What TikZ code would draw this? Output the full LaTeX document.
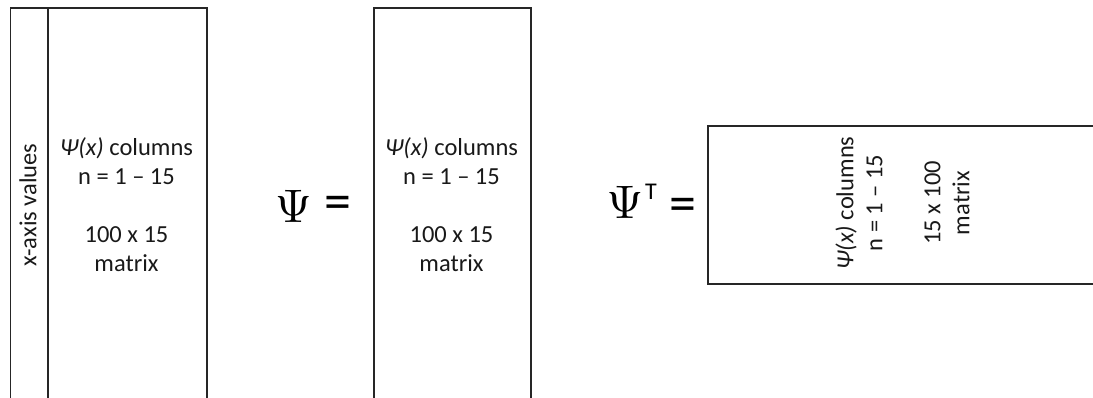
\documentclass[tikz,border=0pt]{standalone}
\usepackage{graphicx}
\usepackage{fontspec}
\setmainfont{Carlito}
\begin{document}
\begin{tikzpicture}[x=1pt,y=-1pt,
  box/.style={draw=black!85, line width=1.6pt, inner sep=0pt, anchor=north west},
  lbl/.style={font=\fontsize{24.5}{29}\selectfont, align=center, inner sep=0pt, text=black!90},
  big/.style={inner sep=0pt},
  eq/.style={font=\fontsize{54}{54}\selectfont, inner sep=0pt},
  sup/.style={font=\fontsize{24}{24}\selectfont, inner sep=0pt}]
\useasboundingbox (0,0) rectangle (1093,398);
\clip (0,0) rectangle (1093,398);
% left matrix
\node[box, minimum width=37.5pt, minimum height=430pt] (xcol) at (9.5,7) {};
\node[box, minimum width=159pt, minimum height=430pt] (psicols) at (47,7) {};
\node[lbl, rotate=90] (xlbl) at (28,205) {x-axis values};
\node[lbl] (ltxt) at (126.5,205) {\textit{Ψ(x)} columns\\n = 1 – 15\\[29pt]100 x 15\\matrix};
% Psi =
\node[big] (psi) at (293.5,206) {\scalebox{4.7}{$\Psi$}};
\node[eq] (eq1) at (337.5,208) {=};
\node[box, minimum width=157pt, minimum height=430pt] (mbox) at (373,7) {};
\node[lbl] (mtxt) at (451.5,205) {\textit{Ψ(x)} columns\\n = 1 – 15\\[29pt]100 x 15\\matrix};
% Psi^T =
\node[big] (psit) at (625,202.5) {\scalebox{4.7}{$\Psi$}};
\node[sup] (tsup) at (651,192) {T};
\node[eq] (eq2) at (683,210) {=};
\node[box, minimum width=420pt, minimum height=158pt] (rbox) at (707,125) {};
\node[lbl, rotate=90] (rtxt) at (902.5,203) {\textit{Ψ(x)} columns\\n = 1 – 15\\[29pt]15 x 100\\matrix};
\end{tikzpicture}
\end{document}
